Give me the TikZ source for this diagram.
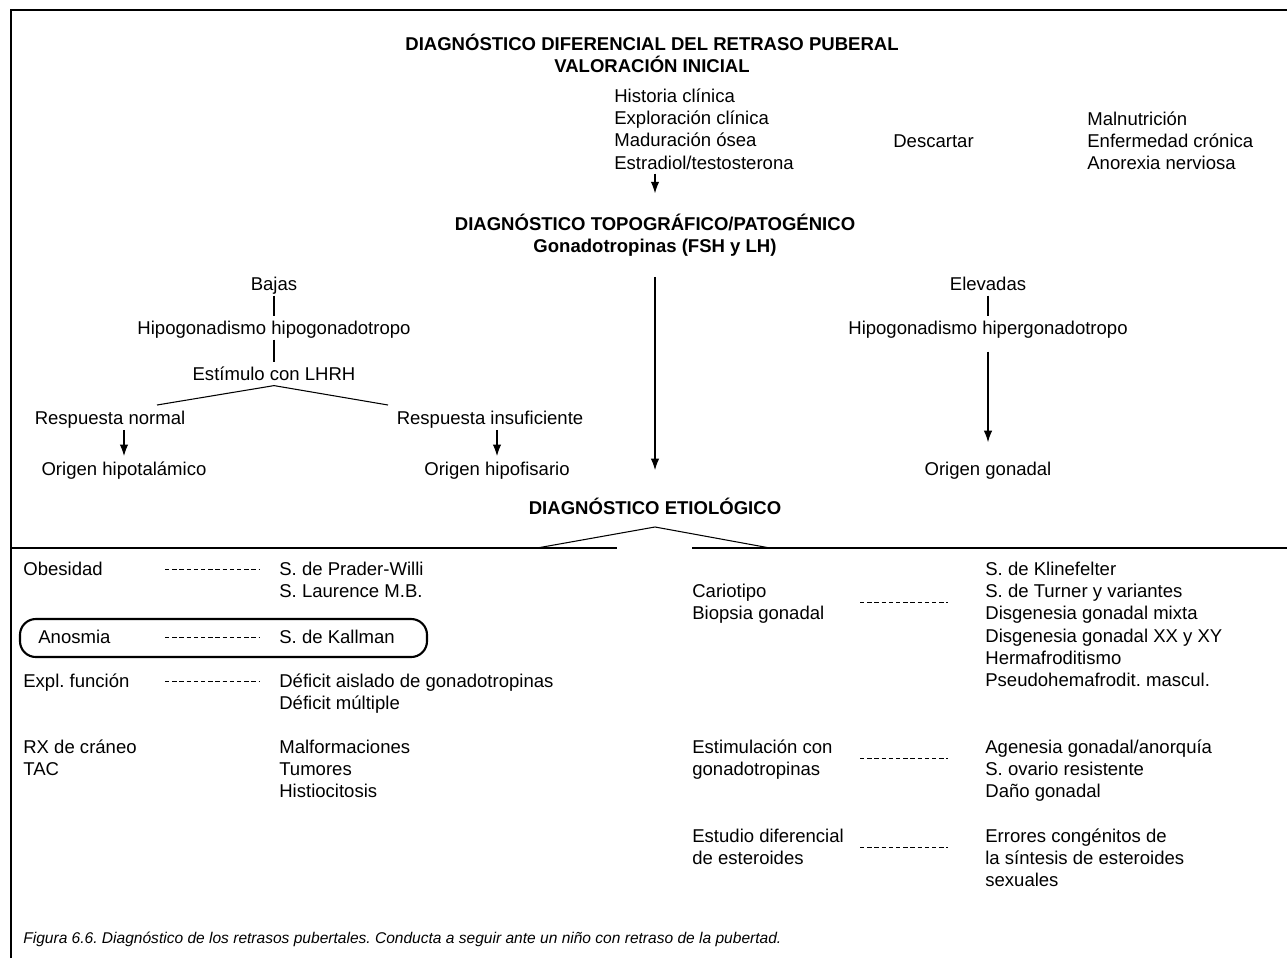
\documentclass[tikz,border=0pt]{standalone}
\usepackage{fontspec}
\setmainfont{Liberation Sans}
\usetikzlibrary{arrows.meta, calc, positioning}
\frenchspacing

\begin{document}
\begin{tikzpicture}[x=0.02cm, y=-0.02cm,
  font=\fontsize{10.55}{12.65}\selectfont,
  txt/.style={inner sep=0pt, text height=0.72em, text depth=0pt},
  izq/.style={txt, anchor=west},
  titulo/.style={txt, font=\fontsize{10.55}{12.65}\selectfont\bfseries},
  arbol/.style={txt, outer sep=3pt},
  flecha/.style={-{Latex[length=6.5pt,width=4.8pt]}, line width=0.6pt},
  linea/.style={line width=0.6pt},
  marco/.style={line width=1.2pt},
  guiones/.style={line width=0.55pt, dash pattern=on 2.5pt off 1.6pt}]

\newcommand{\lista}[4]{% nombre, x, y primera linea, textos
\foreach \texto [count=\i] in {#4} {\node[izq] (#1\i) at (#2,#3+22.3*\i-22.3) {\texto};}
}

\useasboundingbox (0,0) rectangle (1287,958);

%marco
\draw[marco] (11,958) -- (11,10) -- (1287,10);
\draw[marco] (11,548) -- (617,548);
\draw[marco] (692,548) -- (1287,548);

%valoracion inicial
\node[titulo] (tit1) at (652,44) {DIAGNÓSTICO DIFERENCIAL DEL RETRASO PUBERAL};
\node[titulo] (tit2) at (652,66) {VALORACIÓN INICIAL};
\lista{hist}{614}{96}{Historia clínica, Exploración clínica, Maduración ósea, Estradiol/testosterona}
\node[izq] (descartar) at (893,141) {Descartar};
\lista{desc}{1087}{119}{Malnutrición, Enfermedad crónica, Anorexia nerviosa}

%diagnostico topografico
\node[titulo] (topo) at (655,224) {DIAGNÓSTICO TOPOGRÁFICO/PATOGÉNICO};
\node[titulo] (gonado) at (655,246) {Gonadotropinas (FSH y LH)};
\draw[flecha, shorten <=2.3pt, shorten >=13.7pt] (hist4.south -| topo) -- (topo);

%flecha central
\node[titulo] (etiol) at (655,508) {DIAGNÓSTICO ETIOLÓGICO};
\draw[flecha, shorten <=13.8pt, shorten >=17.8pt] (gonado) -- (etiol);

%rama bajas
\node[arbol] (bajas) at (274,284) {Bajas};
\node[arbol] (hipobaja) at (274,328) {Hipogonadismo hipogonadotropo};
\node[arbol] (lhrh) at (274,374) {Estímulo con LHRH};
\draw[linea] (bajas) -- (hipobaja);
\draw[linea] (hipobaja) -- (lhrh);
\coordinate (ramaI) at (157,405);
\coordinate (ramaD) at (388,405);
\draw[linea] (ramaI) -- (lhrh.south) -- (ramaD);
\node[txt] (respn) at (110,418) {Respuesta normal};
\node[txt] (respi) at (490,418) {Respuesta insuficiente};
\node[txt] (orhipot) at (124,469) {Origen hipotalámico};
\node[txt] (orhipof) at (497,469) {Origen hipofisario};
\draw[flecha, shorten <=3pt, shorten >=3.6pt] (respn.south -| orhipot) -- (orhipot);
\draw[flecha, shorten <=3pt, shorten >=3.6pt] (respi.south -| orhipof) -- (orhipof);

%rama elevadas
\node[arbol] (elevadas) at (988,284) {Elevadas};
\node[arbol] (hiper) at (988,328) {Hipogonadismo hipergonadotropo};
\node[txt] (orgon) at (988,469) {Origen gonadal};
\draw[linea] (elevadas) -- (hiper);
\draw[flecha, shorten <=6.8pt, shorten >=11.5pt] (hiper) -- (orgon);

%diagnostico etiologico
\coordinate (trI) at (537,548);
\coordinate (trD) at (770,548);
\draw[linea] (trI) -- ([yshift=-7pt]etiol.south) -- (trD);

%columna izquierda
\coordinate (gI) at (165,0);
\coordinate (gD) at (260,0);
\node[izq] (obes) at (23,569) {Obesidad};
\lista{prader}{279}{569}{S. de Prader-Willi, S. Laurence M.B.}
\draw[guiones] (obes -| gI) -- (obes -| gD);
\draw[line width=1.2pt, rounded corners=9pt] (20,619) rectangle (427,657);
\node[izq] (anosmia) at (38,637) {Anosmia};
\node[izq] (kallman) at (279,637) {S. de Kallman};
\draw[guiones] (anosmia -| gI) -- (anosmia -| gD);
\node[izq] (expl) at (23,681) {Expl. función};
\lista{deficit}{279}{681}{Déficit aislado de gonadotropinas, Déficit múltiple}
\draw[guiones] (expl -| gI) -- (expl -| gD);
\lista{rx}{23}{747}{RX de cráneo, TAC}
\lista{malf}{279}{747}{Malformaciones, Tumores, Histiocitosis}

%columna derecha
\lista{cario}{692}{591}{Cariotipo, Biopsia gonadal}
\lista{kline}{985}{569}{S. de Klinefelter, S. de Turner y variantes, Disgenesia gonadal mixta, Disgenesia gonadal XX y XY, Hermafroditismo, Pseudohemafrodit. mascul.}
\lista{estim}{692}{747}{Estimulación con, gonadotropinas}
\lista{agen}{985}{747}{Agenesia gonadal/anorquía, S. ovario resistente, Daño gonadal}
\lista{estud}{692}{836}{Estudio diferencial, de esteroides}
\lista{errores}{985}{836}{Errores congénitos de, la síntesis de esteroides, sexuales}
\coordinate (hI) at (860,0);
\coordinate (hD) at (948,0);
\foreach \n in {cario,estim,estud} {
  \coordinate (m\n) at ($(\n1)!.5!(\n2)$);
  \draw[guiones] (m\n -| hI) -- (m\n -| hD);
}

%pie
\node[izq, font=\fontsize{8.85}{10}\selectfont\itshape] (pie) at (23,937) {Figura 6.6. Diagnóstico de los retrasos pubertales. Conducta a seguir ante un niño con retraso de la pubertad.};

\end{tikzpicture}
\end{document}
